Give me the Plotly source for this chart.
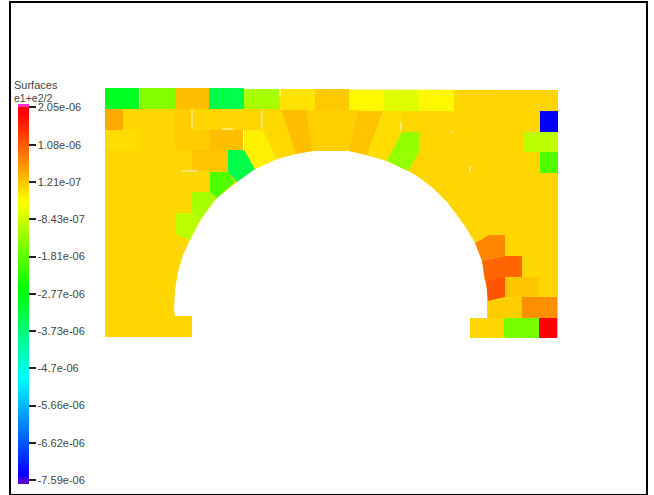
import plotly.graph_objects as go
from plotly.colors import sample_colorscale

# Colour scale, values in units of 1e-6
cmin, cmax = -7.69, 2.13
scale_values = [-7.69, -7.59, -7.45, -4.95, -2.65, -0.40, 1.88, 2.05, 2.06, 2.13]
scale_colors = ["#6000c0", "#5000d8", "#0000ff", "#00ffff", "#00ff00", "#ffff00", "#ff0000", "#ff0000", "#ff30c0", "#ff30c0"]
tick_values = [2.05, 1.08, 0.121, -0.843, -1.81, -2.77, -3.73, -4.7, -5.66, -6.62, -7.59]
tick_labels = ["2.05e-06", "1.08e-06", "1.21e-07", "-8.43e-07", "-1.81e-06", "-2.77e-06",
               "-3.73e-06", "-4.7e-06", "-5.66e-06", "-6.62e-06", "-7.59e-06"]

# Outline of the whole arch (mesh units)
outline_x = [105, 558, 558, 470, 470, 487, 487, 487, 485, 484, 482, 479, 475, 470, 465, 459, 453, 447, 440, 433,
             425, 417, 408, 398, 387, 377, 367, 358, 349, 331, 313, 305, 296, 286, 277, 266, 255, 246, 237, 227,
             217, 209, 201, 195, 190, 183, 178, 175, 174, 175, 192, 192, 105]
outline_y = [89, 90, 338, 338, 318, 318, 300, 290, 281, 271, 261, 252, 243, 234, 226, 218, 210, 202, 195, 188,
             182, 176, 171, 166, 161, 158, 155, 153, 151, 151, 151, 152, 154, 156, 159, 164, 169, 175, 182, 190,
             198, 208, 219, 229, 240, 255, 272, 290, 308, 316, 316, 337, 337]
outline_value = -0.03

# Elements with their own strain value
elem_x = [
    [105, 139, 139, 105], [139, 175, 175, 139], [175, 209, 209, 175], [209, 244, 244, 209],
    [244, 280, 280, 244], [280, 315, 315, 280], [315, 349, 349, 315], [349, 384, 384, 349],
    [384, 419, 419, 384], [419, 454, 454, 419],
    [105, 123, 123, 105], [175, 192, 192, 175], [105, 140, 140, 105], [175, 210, 210, 175], [210, 244, 244, 210],
    [192, 228, 228, 192],
    [244, 263, 277, 255, 244], [228, 244, 255, 237, 228], [210, 228, 235, 217, 210], [192, 210, 216, 201, 192],
    [175, 192, 201, 190, 175],
    [263, 281, 296, 277, 263], [281, 306, 313, 296], [306, 330, 330, 313], [330, 358, 349, 330], [358, 383, 367, 349],
    [383, 402, 402, 393, 387, 367], [402, 419, 419, 408, 387],
    [540, 558, 558, 540], [523, 558, 558, 523], [540, 558, 558, 540],
    [475, 489, 505, 505, 482], [482, 505, 522, 522, 485], [486, 505, 505, 488],
    [505, 539, 539, 505], [522, 557, 557, 522], [488, 522, 522, 487],
    [504, 539, 539, 504], [539, 557, 557, 539],
]
elem_y = [
    [88, 88, 109, 109], [88, 88, 109, 109], [88, 88, 109, 109], [88, 88, 109, 109],
    [89, 89, 109, 109], [89, 89, 110, 110], [89, 89, 110, 110], [90, 90, 111, 111],
    [90, 90, 111, 111], [90, 90, 111, 111],
    [109, 109, 130, 130], [109, 109, 130, 130], [130, 130, 150, 150], [130, 130, 150, 150], [130, 130, 150, 150],
    [150, 150, 171, 171],
    [130, 130, 159, 169, 150], [150, 150, 169, 182, 172], [172, 172, 182, 198, 192], [192, 192, 198, 219, 213],
    [213, 213, 219, 240, 234],
    [110, 110, 154, 159, 130], [110, 110, 151, 154], [110, 110, 151, 151], [110, 110, 151, 151], [111, 111, 155, 151],
    [111, 111, 132, 148, 161, 155], [132, 132, 152, 171, 161],
    [111, 111, 132, 132], [132, 132, 152, 152], [152, 152, 173, 173],
    [243, 235, 235, 256, 261], [261, 256, 256, 277, 281], [281, 277, 297, 301],
    [277, 277, 297, 297], [297, 297, 318, 318], [301, 297, 318, 318],
    [318, 318, 338, 338], [318, 318, 338, 338],
]
elem_value = [
    -2.96, -1.49, 0.17, -3.3,
    -1.18, -0.15, 0.08, -0.335,
    -0.68, -0.335,
    0.36, 0.05, -0.10, 0.05, 0.17,
    0.11,
    -0.26, -3.3, -1.95, -1.18,
    -0.99,
    -0.05, 0.17, 0.03, 0.03, 0.14,
    -0.10, -1.34,
    -7.45, -0.99, -1.95,
    0.67, 0.975, 1.13,
    0.11, 0.6, 0.05,
    -1.57, 1.88,
]

# Thin gaps between elements
gap_x = [139.5, 139.5, None, 192, 192, None, 262, 262, None, 280, 280, None, 243.5, 243.5, None, 222, 233, None,
         182, 198, None, 401, 401, None, 450, 453, None, 470, 470]
gap_y = [88, 109, None, 110, 129, None, 110, 129, None, 88, 97, None, 130, 150, None, 129, 129, None,
         171, 171, None, 122, 130, None, 132, 132, None, 166, 173]

span = cmax - cmin
colorscale = [[(v - cmin) / span, c] for v, c in zip(scale_values, scale_colors)]
def color_of(v):
    return sample_colorscale(colorscale, [(v - cmin) / span])[0]

fig = go.Figure()
fig.add_trace(go.Scatter(x=outline_x, y=outline_y, mode="lines", fill="toself", line=dict(width=0),
                         fillcolor=color_of(outline_value), hoverinfo="skip", showlegend=False))
for xs, ys, v in zip(elem_x, elem_y, elem_value):
    fig.add_trace(go.Scatter(x=xs + xs[:1], y=ys + ys[:1], mode="lines", fill="toself", line=dict(width=0),
                             fillcolor=color_of(v), showlegend=False, name=f"{v}e-06"))
fig.add_trace(go.Scatter(x=gap_x, y=gap_y, mode="lines", line=dict(width=1, color="rgba(255,255,255,0.8)"),
                         hoverinfo="skip", showlegend=False))

# Hidden markers carrying the colour bar
fig.add_trace(go.Scatter(
    x=[xs[0] for xs in elem_x], y=[ys[0] for ys in elem_y], mode="markers", showlegend=False, hoverinfo="skip",
    marker=dict(size=0.1, color=elem_value, cmin=cmin, cmax=cmax, colorscale=colorscale, showscale=True,
                colorbar=dict(
                    x=0.011, xanchor="left", y=0.407, yanchor="middle", lenmode="pixels", len=380,
                    thicknessmode="pixels", thickness=11, outlinewidth=0, xpad=0, ypad=0,
                    tickmode="array", tickvals=tick_values, ticktext=tick_labels,
                    ticks="outside", ticklen=7, tickwidth=1.5, tickcolor="#222",
                    tickfont=dict(family="Liberation Sans", size=11, color="#444"),
                ))))

fig.add_annotation(x=14, y=85, text="Surfaces", showarrow=False, xanchor="left", yanchor="middle", xshift=-2,
                   font=dict(family="Liberation Sans", size=11, color="#444"))
fig.add_annotation(x=14, y=98, text="e1+e2/2", showarrow=False, xanchor="left", yanchor="middle", xshift=-2,
                   font=dict(family="Liberation Sans", size=10.5, color="#444"))

fig.update_xaxes(range=[11, 646], showgrid=False, zeroline=False, showticklabels=False, ticks="",
                 showline=True, mirror=True, linecolor="black", linewidth=2)
fig.update_yaxes(range=[494, 3], showgrid=False, zeroline=False, showticklabels=False, ticks="",
                 showline=True, mirror=True, linecolor="black", linewidth=2)
fig.update_layout(width=654, height=495, margin=dict(l=11, r=8, t=3, b=1, autoexpand=False),
                  paper_bgcolor="white", plot_bgcolor="white")
fig.write_html("out.html", config=dict(displayModeBar=False),
               post_script="document.body.style.margin='0';document.body.style.overflow='hidden';")
